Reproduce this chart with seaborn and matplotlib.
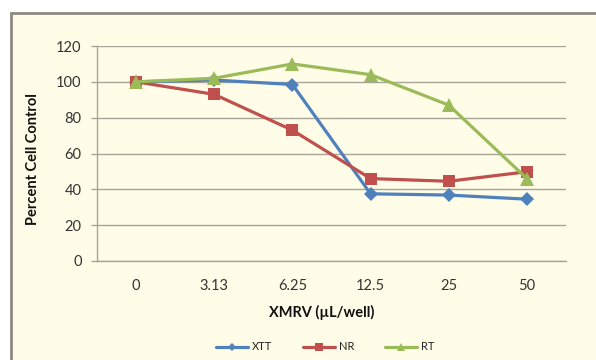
import matplotlib
matplotlib.use("Agg")
import matplotlib.pyplot as plt
import seaborn as sns
import pandas as pd
from matplotlib.patches import Rectangle
from matplotlib.lines import Line2D

# ---- data ----
doses = ["0", "3.13", "6.25", "12.5", "25", "50"]
xtt = [100, 101, 98.5, 37.5, 36.8, 34.5]
nr = [100, 93, 73, 46, 44.5, 49.8]
rt = [100, 102, 110, 104, 87, 46]
series_names = ["XTT", "NR", "RT"]
y_ticks = [0, 20, 40, 60, 80, 100, 120]

colors = ["#4F81BD", "#C0504D", "#9BBB59"]
markers = ["D", "s", "^"]
marker_sizes = [7.5, 9, 9.5]

sns.set_theme(style="white")
plt.rcParams['font.family'] = ['Lato', 'DejaVu Sans']

rows = []
for name, vals in zip(series_names, [xtt, nr, rt]):
    for d, v in zip(doses, vals):
        rows.append({"dose": d, "value": v, "series": name})
df = pd.DataFrame(rows)

W, H = 596, 360
fig = plt.figure(figsize=(W / 100, H / 100), dpi=100)
fig.patch.set_facecolor("white")

# chart panel (light yellow with grey border, cut off at right/bottom)
panel = Rectangle((11 / W, -0.05), 1.2, 1 - 13 / H + 0.05,
                  transform=fig.transFigure, facecolor="#FFFDE8",
                  edgecolor="#8E8A80", lw=2, zorder=-10)
fig.patches.append(panel)

ax = fig.add_axes([97 / W, 1 - 261 / H, (566 - 97) / W, (261 - 46) / H])
ax.set_facecolor("none")

for name, col, mk, ms in zip(series_names, colors, markers, marker_sizes):
    sub = df[df["series"] == name]
    sns.lineplot(data=sub, x="dose", y="value", ax=ax, color=col,
                 marker=mk, markersize=ms, markeredgewidth=0,
                 linewidth=2.3, sort=False, legend=False)

ax.set_xlim(-0.5, len(doses) - 0.5)
ax.set_ylim(0, 120)
ax.set_yticks(y_ticks)
ax.yaxis.grid(True, color="#A8A498", linewidth=1)
ax.set_axisbelow(True)
for s in ["top", "right"]:
    ax.spines[s].set_visible(False)
for s in ["left", "bottom"]:
    ax.spines[s].set_color("#A8A498")
    ax.spines[s].set_linewidth(1)

ax.tick_params(axis="y", length=4, width=1, color="#A8A498", pad=7,
               labelsize=10.5, labelcolor="#333333", left=True)
ax.tick_params(axis="x", length=0, pad=13, labelsize=10.5, labelcolor="#333333")
ax.set_xlabel("")
ax.set_ylabel("")

fig.text(33 / W, 1 - 159 / H, "Percent Cell Control", rotation=90,
         ha="center", va="center", fontsize=10.5, fontweight="bold", color="#111111")
fig.text(322 / W, 1 - 312 / H, "XMRV (µL/well)", ha="center", va="center",
         fontsize=10.5, fontweight="bold", color="#111111")

handles = [Line2D([0], [0], color=c, marker=m, markersize=ms * 0.6,
                  markeredgewidth=0, linewidth=2.3)
           for c, m, ms in zip(colors, markers, marker_sizes)]
fig.legend(handles, series_names, ncol=3, loc="center",
           bbox_to_anchor=(325 / W, 1 - 347 / H), frameon=False,
           fontsize=8, handlelength=2.9, handletextpad=0.3,
           columnspacing=2.8, labelcolor="#222222")

fig.savefig("out.png", dpi=100, facecolor="white")
